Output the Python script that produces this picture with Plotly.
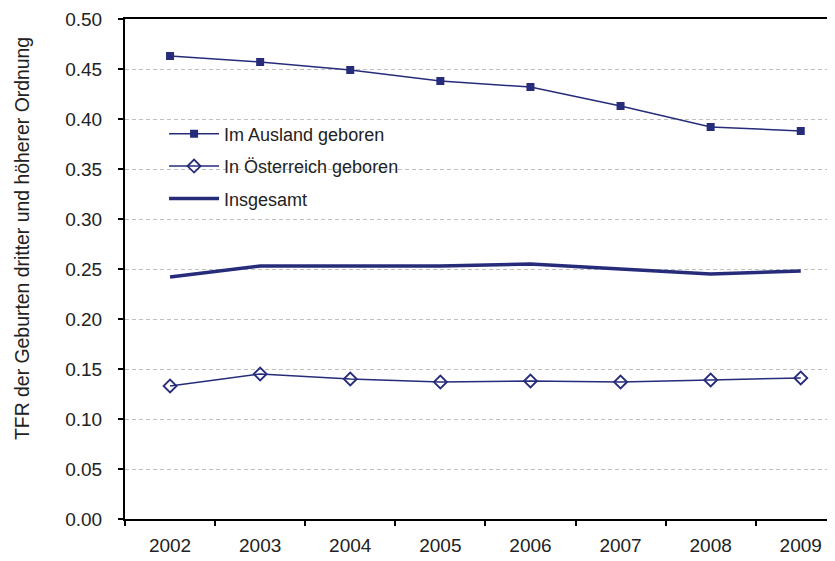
import plotly.graph_objects as go

years = ["2002", "2003", "2004", "2005", "2006", "2007", "2008", "2009"]
ausland = [0.463, 0.457, 0.449, 0.438, 0.432, 0.413, 0.392, 0.388]
oesterreich = [0.133, 0.145, 0.140, 0.137, 0.138, 0.137, 0.139, 0.141]
insgesamt = [0.242, 0.253, 0.253, 0.253, 0.255, 0.250, 0.245, 0.248]
y_ticks = [0.0, 0.05, 0.10, 0.15, 0.20, 0.25, 0.30, 0.35, 0.40, 0.45, 0.50]
y_title = "TFR der Geburten dritter und höherer Ordnung"

navy = "#262C7A"
font = "Liberation Sans, Arial, sans-serif"

fig = go.Figure()
fig.add_trace(go.Scatter(x=years, y=ausland, name="Im Ausland geboren", mode="lines+markers",
                         line=dict(color=navy, width=1.5),
                         marker=dict(symbol="square", size=8, color=navy),
                         legendgroup="a"))
fig.add_trace(go.Scatter(x=years, y=oesterreich, name="In Österreich geboren", mode="lines+markers",
                         line=dict(color=navy, width=1.5),
                         marker=dict(symbol="diamond-open", size=10, color=navy, line=dict(width=1.8)),
                         legendgroup="b"))
fig.add_trace(go.Scatter(x=years, y=insgesamt, name="Insgesamt", mode="lines",
                         line=dict(color=navy, width=3.5),
                         legendgroup="c"))

fig.update_layout(
    width=835, height=561,
    margin=dict(l=117, r=8, t=11, b=50),
    paper_bgcolor="white", plot_bgcolor="white",
    font=dict(family=font, size=19, color="#222222"),
    showlegend=True,
    legend=dict(x=0.055, y=0.807, xanchor="left", yanchor="top",
                bgcolor="rgba(0,0,0,0)", font=dict(size=18, color="#222222"),
                tracegroupgap=6, traceorder="grouped", itemwidth=50),
)
fig.add_annotation(text=y_title, xref="paper", yref="paper", x=0, y=0.56,
                   xshift=-103, xanchor="center", yanchor="middle", textangle=-90,
                   showarrow=False, font=dict(size=19.4, color="#222222"))
fig.update_xaxes(type="category", range=[-0.5, 7.38], automargin=False,
                 showline=True, linecolor="black", linewidth=2, mirror=True,
                 ticks="outside", ticklen=5, tickcolor="black", tickwidth=1.5,
                 tickson="boundaries", showgrid=False, ticklabelstandoff=8,
                 tickfont=dict(size=19))
fig.update_yaxes(range=[0, 0.5], tickvals=y_ticks, tickformat=".2f", automargin=False,
                 showline=True, linecolor="black", linewidth=2,
                 ticks="outside", ticklen=5, tickcolor="black", tickwidth=1.5,
                 showgrid=True, gridcolor="#BFBFBF", gridwidth=1, griddash="4px,3px",
                 zeroline=False, tickfont=dict(size=19), ticklabelstandoff=12)

fig.write_html("out.html")
